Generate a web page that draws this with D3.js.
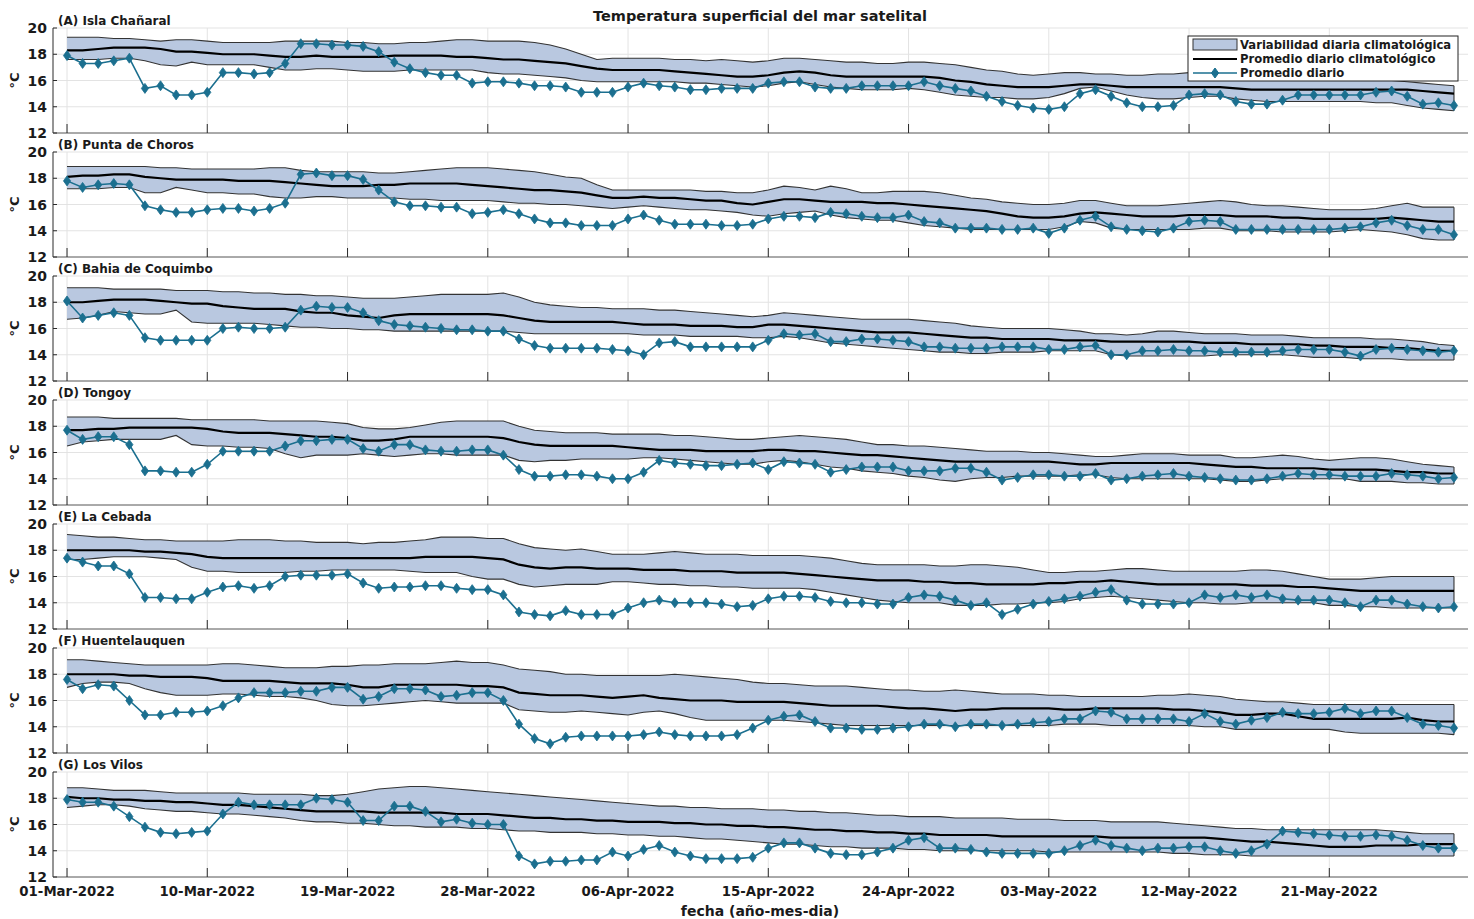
<!DOCTYPE html>
<html>
<head>
<meta charset="utf-8">
<script src="https://cdn.jsdelivr.net/npm/d3@7"></script>
<style>
body { margin: 0; background: #fff; }
text { font-family: "DejaVu Sans", sans-serif; font-weight: bold; fill: #1a1a1a; }
</style>
</head>
<body>
<svg id="chart" width="1474" height="919"></svg>
<script>
// station names (one panel each)
const stations = ["(A) Isla Chañaral", "(B) Punta de Choros", "(C) Bahia de Coquimbo", "(D) Tongoy",
  "(E) La Cebada", "(F) Huentelauquen", "(G) Los Vilos"];

// x ticks: day index from 01-Mar-2022
const tickDays = [0, 9, 18, 27, 36, 45, 54, 63, 72, 81];
const tickLabels = ["01-Mar-2022", "10-Mar-2022", "19-Mar-2022", "28-Mar-2022", "06-Apr-2022",
  "15-Apr-2022", "24-Apr-2022", "03-May-2022", "12-May-2022", "21-May-2022"];
const yTicks = [12, 14, 16, 18, 20];

// ---- (A) Isla Chañaral
const dailyA = [17.9,17.3,17.3,17.5,17.7,15.4,15.6,14.9,14.9,15.1,
  16.6,16.6,16.5,16.6,17.3,18.8,18.8,18.7,18.7,18.6,
  18.2,17.4,16.9,16.6,16.4,16.4,15.8,15.9,15.9,15.8,
  15.6,15.6,15.5,15.1,15.1,15.1,15.5,15.8,15.6,15.5,
  15.3,15.3,15.4,15.4,15.4,15.8,15.9,15.9,15.5,15.4,
  15.4,15.6,15.6,15.6,15.6,15.9,15.6,15.4,15.2,14.8,
  14.4,14.1,13.9,13.8,14.0,15.0,15.3,14.8,14.3,14.0,
  14.0,14.1,14.9,15.0,14.9,14.4,14.2,14.2,14.5,14.9,
  14.9,14.9,14.9,14.9,15.1,15.2,14.8,14.2,14.3,14.1];
const climA = [18.3,18.3,18.4,18.5,18.5,18.5,18.4,18.2,18.2,18.1,
  18.0,18.0,18.0,17.9,17.8,17.8,17.9,17.8,17.8,17.8,
  17.8,17.9,17.9,17.9,17.9,17.8,17.8,17.7,17.6,17.6,
  17.5,17.4,17.3,17.1,16.9,16.8,16.8,16.8,16.8,16.7,
  16.6,16.5,16.4,16.3,16.3,16.4,16.6,16.7,16.6,16.4,
  16.3,16.3,16.3,16.3,16.3,16.3,16.2,16.0,15.9,15.7,
  15.6,15.5,15.5,15.5,15.6,15.7,15.7,15.6,15.5,15.5,
  15.5,15.5,15.5,15.5,15.5,15.4,15.3,15.3,15.3,15.3,
  15.3,15.3,15.3,15.3,15.3,15.3,15.3,15.2,15.1,15.0];
const upA = [19.3,19.3,19.3,19.2,19.2,19.1,19.0,19.1,19.1,19.0,
  18.9,18.9,18.9,18.9,19.0,19.0,19.0,19.0,18.9,18.9,
  18.8,18.8,18.9,18.9,19.0,19.1,19.1,19.0,19.0,19.0,
  18.9,18.7,18.4,18.0,17.6,17.7,17.7,17.7,17.7,17.6,
  17.6,17.5,17.6,17.5,17.4,17.5,17.7,17.7,17.6,17.5,
  17.4,17.4,17.3,17.3,17.4,17.4,17.3,17.2,17.0,16.8,
  16.7,16.5,16.4,16.5,16.6,16.6,16.5,16.5,16.4,16.4,
  16.5,16.5,16.6,16.6,16.6,16.5,16.5,16.4,16.4,16.4,
  16.2,16.2,16.1,16.1,16.0,16.0,15.9,15.8,15.7,15.6];
const loA = [17.6,17.6,17.6,17.7,17.7,17.5,17.2,17.1,17.4,17.2,
  17.2,17.2,17.2,17.0,16.8,16.8,16.9,16.9,16.8,16.7,
  16.7,16.7,16.8,16.8,16.8,16.8,16.8,16.6,16.5,16.5,
  16.4,16.3,16.2,16.0,15.9,15.9,15.9,15.9,15.9,15.9,
  15.8,15.8,15.7,15.6,15.5,15.6,15.8,15.9,15.7,15.5,
  15.4,15.3,15.3,15.3,15.4,15.3,15.1,14.9,14.8,14.7,
  14.7,14.6,14.6,14.7,15.0,15.4,15.5,15.2,14.9,14.7,
  14.6,14.6,14.7,14.8,14.8,14.6,14.5,14.4,14.4,14.4,
  14.4,14.4,14.4,14.4,14.3,14.3,14.1,13.9,13.8,13.7];

// ---- (B) Punta de Choros
const dailyB = [17.8,17.3,17.5,17.6,17.5,15.9,15.6,15.4,15.4,15.6,
  15.7,15.7,15.5,15.7,16.1,18.3,18.4,18.2,18.2,17.9,
  17.1,16.2,15.9,15.9,15.8,15.8,15.3,15.4,15.6,15.3,
  14.9,14.6,14.6,14.4,14.4,14.4,14.9,15.2,14.8,14.5,
  14.5,14.5,14.4,14.4,14.5,14.9,15.1,15.1,15.0,15.4,
  15.3,15.1,15.0,15.0,15.2,14.7,14.6,14.2,14.2,14.2,
  14.1,14.1,14.2,13.8,14.2,14.8,15.1,14.3,14.1,14.0,
  13.9,14.2,14.7,14.8,14.7,14.1,14.1,14.1,14.1,14.1,
  14.1,14.1,14.2,14.3,14.6,14.8,14.4,14.1,14.1,13.7];
const climB = [18.1,18.2,18.2,18.3,18.3,18.1,18.0,17.9,17.9,17.9,
  17.9,17.8,17.8,17.8,17.7,17.6,17.5,17.4,17.4,17.4,
  17.5,17.5,17.6,17.6,17.6,17.6,17.5,17.4,17.3,17.2,
  17.1,17.1,17.0,16.9,16.7,16.5,16.5,16.6,16.5,16.5,
  16.4,16.3,16.3,16.1,16.0,16.2,16.4,16.4,16.3,16.2,
  16.2,16.2,16.1,16.1,16.0,15.9,15.8,15.7,15.6,15.5,
  15.3,15.1,15.0,15.0,15.1,15.3,15.4,15.3,15.2,15.1,
  15.1,15.1,15.2,15.2,15.2,15.1,15.1,15.1,15.0,15.0,
  14.9,14.9,14.9,14.9,14.9,15.0,14.9,14.8,14.7,14.7];
const upB = [18.9,18.9,18.9,18.9,18.9,18.9,18.8,18.8,18.7,18.7,
  18.7,18.7,18.7,18.8,18.8,18.6,18.5,18.5,18.5,18.5,
  18.4,18.4,18.5,18.6,18.7,18.8,18.8,18.8,18.7,18.6,
  18.5,18.3,18.1,18.0,17.5,17.1,17.1,17.1,17.1,17.1,
  17.1,17.0,17.0,16.9,16.9,17.1,17.4,17.3,17.1,17.4,
  17.2,16.9,16.9,17.0,17.0,17.0,16.9,16.7,16.5,16.4,
  16.2,16.1,16.0,16.0,16.1,16.3,16.3,16.1,15.9,15.9,
  15.9,16.0,16.1,16.2,16.3,16.2,16.0,15.9,15.9,15.8,
  15.7,15.6,15.6,15.6,15.7,15.9,16.1,15.8,15.8,15.8];
const loB = [17.2,17.2,17.2,17.3,17.3,16.9,16.9,17.3,17.1,16.9,
  16.9,16.8,16.8,16.6,16.5,16.5,16.6,16.6,16.5,16.5,
  16.5,16.5,16.4,16.4,16.3,16.3,16.3,16.3,16.2,16.1,
  16.1,16.0,16.0,15.9,15.8,15.7,15.8,15.9,15.8,15.7,
  15.6,15.6,15.5,15.4,15.2,15.1,15.3,15.4,15.5,15.2,
  15.0,14.9,14.8,14.8,14.6,14.4,14.3,14.2,14.1,14.1,
  14.1,14.1,14.1,14.1,14.3,14.7,14.6,14.2,14.1,14.1,
  14.1,14.1,14.1,14.2,14.2,14.0,14.0,14.0,13.9,13.9,
  13.9,13.9,14.0,14.1,14.0,13.9,13.7,13.4,13.3,13.3];

// ---- (C) Bahia de Coquimbo
const dailyC = [18.1,16.8,17.0,17.2,17.0,15.3,15.1,15.1,15.1,15.1,
  16.0,16.1,16.0,16.0,16.1,17.4,17.7,17.6,17.6,17.2,
  16.6,16.3,16.2,16.1,16.0,15.9,15.9,15.8,15.8,15.2,
  14.7,14.5,14.5,14.5,14.5,14.4,14.3,14.0,14.9,15.0,
  14.6,14.6,14.6,14.6,14.6,15.1,15.6,15.5,15.6,15.0,
  15.0,15.2,15.2,15.1,15.0,14.6,14.6,14.5,14.5,14.5,
  14.6,14.6,14.6,14.4,14.4,14.6,14.7,14.0,14.0,14.3,
  14.3,14.4,14.3,14.3,14.2,14.2,14.2,14.2,14.3,14.4,
  14.4,14.4,14.2,13.9,14.4,14.5,14.4,14.3,14.2,14.3];
const climC = [18.0,18.0,18.1,18.2,18.2,18.2,18.1,18.0,17.9,17.9,
  17.7,17.6,17.5,17.5,17.5,17.3,17.2,17.2,17.0,16.9,
  16.8,17.0,17.1,17.1,17.1,17.1,17.1,17.1,17.0,16.8,
  16.6,16.5,16.5,16.5,16.5,16.5,16.4,16.3,16.3,16.3,
  16.2,16.2,16.2,16.1,16.1,16.3,16.3,16.2,16.1,16.0,
  15.9,15.8,15.7,15.7,15.7,15.6,15.5,15.4,15.3,15.3,
  15.2,15.2,15.2,15.2,15.1,15.1,15.1,15.0,15.0,15.0,
  15.0,15.0,15.0,14.9,14.9,14.9,14.8,14.8,14.8,14.8,
  14.7,14.7,14.6,14.6,14.6,14.5,14.5,14.4,14.3,14.3];
const upC = [19.1,19.1,19.1,19.0,19.0,19.0,19.0,18.9,18.9,18.9,
  18.8,18.8,18.7,18.7,18.6,18.6,18.5,18.5,18.4,18.3,
  18.3,18.3,18.4,18.5,18.6,18.6,18.6,18.6,18.7,18.4,
  18.0,17.8,17.7,17.6,17.6,17.5,17.5,17.5,17.4,17.4,
  17.3,17.2,17.1,17.0,16.9,17.0,17.2,17.1,17.0,16.9,
  16.8,16.7,16.7,16.7,16.7,16.6,16.5,16.4,16.2,16.1,
  16.0,16.0,16.0,16.0,15.9,15.8,15.6,15.6,15.5,15.6,
  15.8,15.8,15.7,15.6,15.6,15.6,15.5,15.5,15.5,15.4,
  15.3,15.3,15.3,15.3,15.2,15.2,15.1,15.0,14.8,14.7];
const loC = [16.7,16.8,17.0,17.3,17.2,17.1,17.1,17.4,16.5,16.4,
  16.4,16.4,16.4,16.3,16.2,16.1,16.1,16.0,16.0,15.9,
  15.9,15.8,15.8,15.8,15.8,15.8,15.8,15.8,15.8,15.7,
  15.6,15.6,15.6,15.6,15.6,15.6,15.6,15.5,15.5,15.5,
  15.4,15.4,15.4,15.4,15.3,15.3,15.4,15.3,15.1,14.9,
  14.8,14.7,14.6,14.5,14.4,14.3,14.2,14.2,14.1,14.1,
  14.2,14.2,14.2,14.3,14.3,14.3,14.3,14.0,13.9,13.9,
  13.9,13.9,13.9,13.9,14.0,14.0,14.0,14.0,14.0,13.9,
  13.8,13.8,13.8,13.7,13.7,13.7,13.6,13.6,13.6,13.6];

// ---- (D) Tongoy
const dailyD = [17.7,17.0,17.2,17.2,16.6,14.6,14.6,14.5,14.5,15.1,
  16.1,16.1,16.1,16.1,16.5,16.9,16.9,17.0,17.0,16.3,
  16.1,16.6,16.6,16.2,16.1,16.1,16.2,16.2,15.8,14.7,
  14.2,14.2,14.3,14.3,14.2,14.0,14.0,14.5,15.4,15.2,
  15.1,15.0,15.0,15.1,15.2,14.7,15.3,15.2,15.1,14.5,
  14.7,14.9,14.9,14.9,14.6,14.6,14.6,14.8,14.8,14.5,
  13.9,14.1,14.3,14.3,14.2,14.2,14.4,13.9,14.0,14.2,
  14.3,14.4,14.2,14.1,14.0,13.9,13.9,14.0,14.2,14.4,
  14.3,14.3,14.2,14.2,14.2,14.4,14.3,14.2,14.0,14.1];
const climD = [17.7,17.7,17.8,17.8,17.9,17.9,17.9,17.9,17.9,17.8,
  17.6,17.5,17.5,17.5,17.4,17.3,17.2,17.2,17.1,16.9,
  16.9,17.0,17.2,17.2,17.2,17.2,17.2,17.2,17.1,16.8,
  16.6,16.5,16.5,16.5,16.5,16.5,16.4,16.3,16.2,16.2,
  16.2,16.1,16.1,16.1,16.1,16.2,16.2,16.1,16.1,16.0,
  15.9,15.8,15.8,15.7,15.6,15.5,15.4,15.3,15.3,15.3,
  15.3,15.3,15.3,15.3,15.2,15.1,15.1,15.2,15.2,15.2,
  15.2,15.2,15.2,15.1,15.0,14.9,14.9,14.8,14.8,14.8,
  14.8,14.7,14.7,14.7,14.7,14.6,14.5,14.5,14.4,14.4];
const upD = [18.7,18.7,18.7,18.6,18.6,18.6,18.6,18.6,18.5,18.5,
  18.5,18.5,18.5,18.4,18.4,18.4,18.4,18.3,18.2,17.9,
  17.8,17.8,17.9,18.1,18.3,18.4,18.4,18.4,18.4,18.0,
  17.7,17.6,17.5,17.5,17.5,17.4,17.4,17.4,17.4,17.3,
  17.3,17.2,17.1,17.0,17.0,17.1,17.2,17.3,17.2,17.1,
  17.0,16.8,16.6,16.6,16.5,16.5,16.4,16.3,16.2,16.1,
  16.1,16.1,16.0,16.0,15.9,15.8,15.7,15.7,15.8,15.9,
  15.9,15.9,15.8,15.8,15.8,15.6,15.6,15.7,15.8,15.7,
  15.5,15.4,15.5,15.6,15.6,15.5,15.3,15.1,15.0,14.9];
const loD = [16.5,16.8,16.9,17.0,17.0,17.0,17.0,17.3,16.6,16.5,
  16.5,16.4,16.4,16.3,15.9,15.6,15.8,15.8,15.8,15.9,
  15.8,15.7,15.8,15.9,15.9,15.8,15.8,15.8,15.8,15.4,
  15.3,15.4,15.4,15.5,15.5,15.5,15.5,15.6,15.6,15.5,
  15.4,15.3,15.2,15.1,15.1,15.3,15.4,15.3,15.1,14.9,
  14.8,14.6,14.5,14.4,14.2,14.1,13.9,13.8,14.0,14.1,
  14.1,14.2,14.2,14.2,14.2,14.3,14.3,14.1,14.0,14.0,
  14.0,14.0,14.0,14.0,13.9,13.8,13.8,13.9,14.0,14.0,
  14.0,14.0,14.0,13.8,13.8,13.8,13.7,13.7,13.6,13.6];

// ---- (E) La Cebada
const dailyE = [17.4,17.1,16.8,16.8,16.2,14.4,14.4,14.3,14.3,14.8,
  15.2,15.3,15.1,15.3,16.0,16.1,16.1,16.1,16.2,15.5,
  15.1,15.2,15.2,15.3,15.3,15.1,15.0,15.0,14.6,13.3,
  13.1,13.0,13.4,13.1,13.1,13.1,13.6,14.0,14.2,14.0,
  14.0,14.0,13.9,13.7,13.8,14.3,14.5,14.5,14.4,14.1,
  14.0,14.0,13.9,13.9,14.4,14.6,14.5,14.2,13.8,14.0,
  13.1,13.5,13.9,14.1,14.3,14.5,14.8,15.0,14.2,13.9,
  13.9,13.9,14.0,14.6,14.4,14.6,14.4,14.6,14.3,14.2,
  14.2,14.2,14.0,13.7,14.2,14.2,13.9,13.7,13.6,13.7];
const climE = [18.0,18.0,18.0,18.0,18.0,17.9,17.9,17.8,17.7,17.5,
  17.4,17.4,17.4,17.4,17.4,17.4,17.4,17.4,17.4,17.4,
  17.4,17.4,17.4,17.5,17.5,17.5,17.5,17.4,17.3,16.9,
  16.7,16.6,16.7,16.7,16.6,16.6,16.6,16.5,16.5,16.5,
  16.4,16.4,16.4,16.3,16.3,16.3,16.3,16.2,16.1,16.0,
  15.9,15.8,15.7,15.7,15.7,15.6,15.6,15.5,15.5,15.4,
  15.4,15.4,15.4,15.5,15.5,15.6,15.6,15.7,15.6,15.5,
  15.4,15.4,15.4,15.4,15.4,15.4,15.3,15.3,15.3,15.2,
  15.2,15.1,15.0,14.9,14.9,14.9,14.9,14.9,14.9,14.9];
const upE = [19.2,19.1,19.0,19.0,18.9,18.8,18.8,18.7,18.7,18.7,
  18.7,18.8,18.8,18.8,18.7,18.7,18.6,18.6,18.6,18.5,
  18.6,18.6,18.7,18.8,19.0,19.0,19.0,18.9,18.9,18.5,
  18.2,18.1,18.0,18.1,17.9,17.7,17.7,17.7,17.8,17.9,
  17.8,17.7,17.7,17.7,17.6,17.6,17.6,17.6,17.5,17.4,
  17.2,17.0,16.9,16.9,16.9,16.9,16.8,16.8,16.9,16.9,
  16.8,16.7,16.5,16.3,16.3,16.4,16.4,16.5,16.6,16.6,
  16.5,16.4,16.4,16.4,16.4,16.4,16.5,16.5,16.4,16.2,
  16.0,15.8,15.8,15.8,15.9,16.0,16.0,16.0,16.0,16.0];
const loE = [17.3,17.3,17.4,17.5,17.5,17.5,17.4,17.3,16.7,16.4,
  16.4,16.3,16.3,16.3,16.3,16.4,16.4,16.5,16.5,16.5,
  16.5,16.5,16.4,16.3,16.3,16.3,16.0,15.8,15.8,15.4,
  15.2,15.3,15.4,15.4,15.4,15.6,15.6,15.5,15.4,15.4,
  15.3,15.3,15.2,15.2,15.1,15.1,15.1,15.1,15.0,14.8,
  14.6,14.4,14.2,14.1,14.0,14.0,14.0,13.8,13.8,13.8,
  13.9,13.9,14.0,14.0,14.1,14.3,14.4,14.5,14.4,14.3,
  14.2,14.1,14.0,14.0,13.9,13.9,14.0,14.0,14.0,14.0,
  14.0,13.8,13.8,13.7,13.7,13.6,13.6,13.6,13.6,13.6];

// ---- (F) Huentelauquen
const dailyF = [17.6,16.9,17.2,17.1,16.0,14.9,14.9,15.1,15.1,15.2,
  15.6,16.2,16.6,16.6,16.6,16.7,16.7,17.0,17.0,16.1,
  16.3,16.9,16.9,16.8,16.3,16.4,16.6,16.6,16.0,14.2,
  13.1,12.7,13.2,13.3,13.3,13.3,13.3,13.4,13.6,13.4,
  13.3,13.3,13.3,13.4,13.9,14.5,14.8,14.9,14.4,13.9,
  13.9,13.8,13.8,13.9,14.0,14.2,14.2,14.0,14.2,14.2,
  14.1,14.2,14.3,14.4,14.6,14.6,15.2,15.1,14.6,14.6,
  14.6,14.6,14.4,15.0,14.4,14.2,14.5,14.7,15.1,15.0,
  15.0,15.1,15.4,15.0,15.2,15.2,14.7,14.2,14.1,13.9];
const climF = [18.0,18.0,18.0,18.0,17.9,17.9,17.8,17.8,17.8,17.7,
  17.5,17.5,17.5,17.5,17.4,17.3,17.3,17.3,17.2,17.0,
  17.0,17.2,17.2,17.2,17.2,17.2,17.1,17.1,17.0,16.6,
  16.5,16.4,16.4,16.4,16.3,16.2,16.3,16.4,16.2,16.1,
  16.0,16.0,16.0,15.9,15.9,15.9,15.9,15.8,15.7,15.6,
  15.6,15.6,15.6,15.5,15.4,15.4,15.3,15.2,15.3,15.3,
  15.4,15.4,15.4,15.4,15.3,15.3,15.4,15.4,15.4,15.4,
  15.4,15.3,15.3,15.2,15.1,14.9,14.9,15.0,15.0,14.8,
  14.6,14.6,14.6,14.6,14.6,14.6,14.7,14.5,14.4,14.4];
const upF = [19.1,19.1,19.0,18.9,18.8,18.7,18.7,18.7,18.7,18.7,
  18.8,18.8,18.7,18.6,18.5,18.5,18.5,18.6,18.6,18.7,
  18.7,18.8,18.8,18.8,18.9,19.0,18.9,18.9,18.7,18.4,
  18.3,18.2,18.0,18.0,17.9,17.9,17.9,17.9,17.9,18.0,
  17.9,17.8,17.7,17.6,17.4,17.3,17.3,17.2,17.1,17.1,
  17.1,17.0,16.9,16.8,16.8,16.7,16.7,16.8,16.7,16.6,
  16.5,16.5,16.5,16.4,16.4,16.3,16.3,16.3,16.3,16.3,
  16.4,16.4,16.5,16.4,16.3,16.1,16.0,15.9,15.9,15.8,
  15.7,15.7,15.7,15.7,15.7,15.7,15.7,15.7,15.7,15.7];
const loF = [17.0,17.3,17.4,17.4,17.3,16.9,16.6,16.4,16.4,16.4,
  16.5,16.5,16.4,16.3,16.3,16.2,16.0,15.7,15.6,15.6,
  15.7,15.8,15.9,16.0,15.9,15.8,15.8,15.8,15.8,15.3,
  15.2,15.1,15.1,15.2,15.1,15.0,14.9,15.1,15.2,15.0,
  14.7,14.5,14.5,14.5,14.5,14.5,14.5,14.4,14.3,14.2,
  14.1,14.1,14.1,14.1,14.1,14.1,14.1,14.1,14.1,14.1,
  14.1,14.1,14.1,14.1,14.2,14.2,14.2,14.1,14.1,14.1,
  14.1,14.1,14.1,14.0,14.0,13.8,13.8,13.8,13.8,13.8,
  13.8,13.8,13.6,13.5,13.5,13.5,13.5,13.5,13.5,13.4];

// ---- (G) Los Vilos
const dailyG = [17.9,17.7,17.7,17.4,16.6,15.8,15.4,15.3,15.4,15.5,
  16.8,17.7,17.5,17.5,17.5,17.5,18.0,17.9,17.7,16.3,
  16.3,17.4,17.4,17.0,16.2,16.4,16.1,16.0,16.0,13.6,
  13.0,13.2,13.2,13.3,13.3,13.9,13.6,14.1,14.4,13.9,
  13.6,13.4,13.4,13.4,13.5,14.2,14.6,14.6,14.2,13.8,
  13.7,13.7,13.9,14.2,14.8,15.0,14.2,14.2,14.1,13.9,
  13.8,13.8,13.8,13.8,14.0,14.4,14.8,14.4,14.2,14.0,
  14.2,14.2,14.3,14.3,14.0,13.8,14.0,14.5,15.5,15.4,
  15.3,15.2,15.1,15.1,15.2,15.1,14.8,14.4,14.2,14.2];
const climG = [18.1,18.0,18.0,17.9,17.9,17.8,17.8,17.7,17.7,17.6,
  17.5,17.5,17.4,17.3,17.2,17.1,17.0,17.0,17.0,17.0,
  16.9,16.9,16.9,16.9,16.9,16.8,16.8,16.8,16.7,16.6,
  16.5,16.5,16.4,16.4,16.3,16.3,16.2,16.2,16.2,16.1,
  16.1,16.0,16.0,15.9,15.9,15.8,15.8,15.7,15.6,15.6,
  15.5,15.5,15.4,15.4,15.3,15.3,15.2,15.2,15.2,15.2,
  15.1,15.1,15.1,15.1,15.1,15.1,15.1,15.0,15.0,15.0,
  15.0,15.0,15.0,15.0,14.9,14.8,14.7,14.7,14.6,14.5,
  14.4,14.3,14.3,14.3,14.4,14.4,14.4,14.5,14.5,14.5];
const upG = [18.8,18.8,18.7,18.6,18.6,18.6,18.5,18.4,18.4,18.4,
  18.4,18.4,18.3,18.3,18.3,18.3,18.2,18.2,18.3,18.5,
  18.7,18.8,18.9,18.9,18.8,18.7,18.6,18.5,18.4,18.3,
  18.2,18.1,18.0,17.9,17.8,17.7,17.6,17.5,17.4,17.4,
  17.3,17.3,17.2,17.2,17.2,17.1,17.1,17.0,17.0,16.9,
  16.9,16.8,16.7,16.7,16.6,16.6,16.6,16.5,16.5,16.5,
  16.5,16.4,16.4,16.4,16.3,16.3,16.3,16.2,16.2,16.2,
  16.2,16.1,16.0,15.9,15.8,15.7,15.7,15.6,15.6,15.6,
  15.6,15.6,15.6,15.6,15.6,15.5,15.4,15.3,15.3,15.3];
const loG = [17.3,17.4,17.5,17.5,17.4,17.2,17.1,17.0,17.0,16.9,
  16.8,16.8,16.7,16.6,16.5,16.3,16.2,16.2,16.1,16.1,
  16.0,15.9,15.9,15.8,15.8,15.8,15.7,15.7,15.6,15.5,
  15.5,15.4,15.4,15.4,15.3,15.3,15.2,15.2,15.1,15.1,
  15.0,14.9,14.9,14.8,14.7,14.6,14.5,14.5,14.4,14.3,
  14.3,14.2,14.2,14.2,14.1,14.1,14.0,14.0,14.0,14.0,
  14.0,14.0,14.0,13.9,13.9,13.9,13.9,13.9,13.9,13.9,
  13.9,13.8,13.8,13.7,13.7,13.7,13.6,13.6,13.6,13.6,
  13.6,13.6,13.6,13.6,13.6,13.6,13.6,13.6,13.6,13.6];

const panels = [
  {name: stations[0], daily: dailyA, clim: climA, up: upA, lo: loA},
  {name: stations[1], daily: dailyB, clim: climB, up: upB, lo: loB},
  {name: stations[2], daily: dailyC, clim: climC, up: upC, lo: loC},
  {name: stations[3], daily: dailyD, clim: climD, up: upD, lo: loD},
  {name: stations[4], daily: dailyE, clim: climE, up: upE, lo: loE},
  {name: stations[5], daily: dailyF, clim: climF, up: upF, lo: loF},
  {name: stations[6], daily: dailyG, clim: climG, up: upG, lo: loG}
];

// layout
const left = 53, right = 1468, top0 = 28, step = 124, ph = 105;
const blue = "#1b6f8f", bandFill = "#b9c8e0", gridCol = "#e3e3e3", axisCol = "#2a2a2a";

const svg = d3.select("#chart");
const x = d3.scaleLinear().domain([-0.9, 89.9]).range([left, right]);
const y = d3.scaleLinear().domain([12, 20]).range([ph, 0]);

const diamond = "M0,-5L3.6,0L0,5L-3.6,0Z";

svg.append("text")
  .attr("x", 760).attr("y", 21)
  .attr("text-anchor", "middle")
  .style("font-size", "14.5px")
  .text("Temperatura superficial del mar satelital");

panels.forEach(function(p, k){
  const g = svg.append("g").attr("transform", "translate(0," + (top0 + k*step) + ")");

  // grid
  g.selectAll(".hgrid").data(yTicks.slice(1)).enter().append("line")
    .attr("x1", left).attr("x2", right)
    .attr("y1", d => y(d)).attr("y2", d => y(d))
    .attr("stroke", gridCol).attr("stroke-width", 1);
  g.selectAll(".vgrid").data(tickDays).enter().append("line")
    .attr("x1", d => x(d)).attr("x2", d => x(d))
    .attr("y1", 0).attr("y2", ph)
    .attr("stroke", gridCol).attr("stroke-width", 1);

  // climatological band
  const band = d3.area()
    .x((d, i) => x(i))
    .y0((d, i) => y(p.lo[i]))
    .y1((d, i) => y(p.up[i]));
  g.append("path").datum(p.up)
    .attr("d", band)
    .attr("fill", bandFill);
  const edge = d3.line().x((d, i) => x(i)).y(d => y(d));
  [p.up, p.lo].forEach(function(arr){
    g.append("path").datum(arr).attr("d", edge)
      .attr("fill", "none").attr("stroke", "#333").attr("stroke-width", 1.1);
  });
  // closing edge at the last day
  g.append("line")
    .attr("x1", x(89)).attr("x2", x(89))
    .attr("y1", y(p.up[89])).attr("y2", y(p.lo[89]))
    .attr("stroke", "#333").attr("stroke-width", 1.1);

  // climatological mean
  g.append("path").datum(p.clim).attr("d", edge)
    .attr("fill", "none").attr("stroke", "#000").attr("stroke-width", 2.2);

  // daily mean
  g.append("path").datum(p.daily).attr("d", edge)
    .attr("fill", "none").attr("stroke", blue).attr("stroke-width", 1.6);
  g.selectAll(".mk").data(p.daily).enter().append("path")
    .attr("d", diamond)
    .attr("transform", (d, i) => "translate(" + x(i) + "," + y(d) + ")")
    .attr("fill", blue).attr("stroke", blue).attr("stroke-width", 0.8);

  // axes
  g.append("line").attr("x1", left).attr("x2", left).attr("y1", 0).attr("y2", ph)
    .attr("stroke", axisCol).attr("stroke-width", 1);
  g.append("line").attr("x1", left).attr("x2", right).attr("y1", ph).attr("y2", ph)
    .attr("stroke", "#555").attr("stroke-width", 1);
  g.selectAll(".xt").data(tickDays).enter().append("line")
    .attr("x1", d => x(d)).attr("x2", d => x(d))
    .attr("y1", ph).attr("y2", ph - 9)
    .attr("stroke", axisCol).attr("stroke-width", 1);
  g.selectAll(".yt").data(yTicks).enter().append("line")
    .attr("x1", left).attr("x2", left + 4)
    .attr("y1", d => y(d)).attr("y2", d => y(d))
    .attr("stroke", axisCol).attr("stroke-width", 1);
  g.selectAll(".yl").data(yTicks).enter().append("text")
    .attr("x", left - 6).attr("y", d => y(d) + 5)
    .attr("text-anchor", "end")
    .style("font-size", "14px")
    .text(d => d);

  g.append("text")
    .attr("transform", "translate(19," + (ph/2) + ") rotate(-90)")
    .attr("text-anchor", "middle")
    .style("font-size", "13px")
    .text("°C");

  g.append("text")
    .attr("x", 58).attr("y", -3)
    .style("font-size", "12px")
    .text(p.name);

  if (k === panels.length - 1) {
    g.selectAll(".xl").data(tickDays).enter().append("text")
      .attr("x", d => x(d)).attr("y", ph + 19)
      .attr("text-anchor", "middle")
      .style("font-size", "13.3px")
      .text((d, i) => tickLabels[i]);
    g.append("text")
      .attr("x", 760).attr("y", ph + 39)
      .attr("text-anchor", "middle")
      .style("font-size", "14px")
      .text("fecha (año-mes-dia)");
  }
});

// legend (inside panel A)
const lg = svg.append("g").attr("transform", "translate(1188,36)");
lg.append("rect").attr("width", 270).attr("height", 45)
  .attr("fill", "#fff").attr("stroke", "#222").attr("stroke-width", 1);
lg.append("rect").attr("x", 5).attr("y", 3).attr("width", 44).attr("height", 11)
  .attr("fill", bandFill).attr("stroke", "#333");
lg.append("line").attr("x1", 5).attr("x2", 49).attr("y1", 23).attr("y2", 23)
  .attr("stroke", "#000").attr("stroke-width", 2);
lg.append("line").attr("x1", 5).attr("x2", 49).attr("y1", 37).attr("y2", 37)
  .attr("stroke", blue).attr("stroke-width", 1.6);
lg.append("path").attr("d", diamond).attr("transform", "translate(27,37)")
  .attr("fill", blue).attr("stroke", blue);
const legendLabels = ["Variabilidad diaria climatológica", "Promedio diario climatológico", "Promedio diario"];
lg.selectAll(".lt").data(legendLabels).enter().append("text")
  .attr("x", 52).attr("y", (d, i) => 13 + i*14)
  .style("font-size", "11.6px")
  .text(d => d);
</script>
</body>
</html>
